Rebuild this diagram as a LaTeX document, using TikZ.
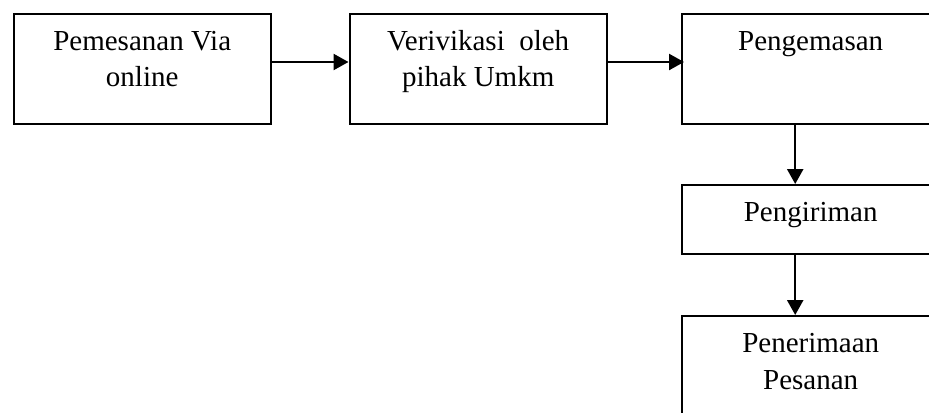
\documentclass[tikz,border=0pt]{standalone}
\usepackage{fontspec}
\setmainfont{Liberation Serif}
\usetikzlibrary{arrows.meta}

\tikzset{every picture/.style={line width=1pt}}
\tikzset{
  flowbox/.style={draw, rectangle, anchor=north west, inner sep=0pt, minimum width=128.5pt, minimum height=55pt},
  flowtext/.style={anchor=base, inner sep=0pt, align=center, font=\fontsize{14.5}{18.3}\selectfont},
  flowarrow/.style={-{Triangle[length=7.5pt,width=8pt]}}
}

\begin{document}
\begin{tikzpicture}[x=0.5pt,y=0.5pt,yscale=-1,xscale=1,line width=1.2pt]
		\useasboundingbox (0,0) rectangle (929,412);

		%Shape: Rectangle [order]
		\node [flowbox] (order) at (12.5,12.5) {};
		%Shape: Rectangle [verify]
		\node [flowbox] (verify) at (348.5,12.5) {};
		%Shape: Rectangle [pack]
		\node [flowbox] (pack) at (681,12.5) {};
		%Shape: Rectangle [ship]
		\node [flowbox, minimum height=34.35pt] (ship) at (681,184) {};
		%Shape: Rectangle [receive]
		\node [flowbox] (receive) at (681,315) {};

		% Text Node (base = last line)
		\node [flowtext] (orderText) at ([yshift=37.1pt]order.north) {Pemesanan Via\\online};
		% Text Node
		\node [flowtext] (verifyText) at ([yshift=37.1pt]verify.north) {Verivikasi\ \ oleh\\pihak Umkm};
		% Text Node
		\node [flowtext] (packText) at ([yshift=18.75pt]pack.north) {Pengemasan};
		% Text Node
		\node [flowtext] (shipText) at ([yshift=18.75pt]ship.north) {Pengiriman};
		% Text Node
		\node [flowtext] (receiveText) at ([yshift=37.1pt]receive.north) {Penerimaan\\Pesanan};

		%Straight Lines [arrows]
		\draw [flowarrow] ([yshift=-3.35pt]order.east) -- ([yshift=-3.35pt]verify.west);
		\draw [flowarrow] ([yshift=-3.35pt]verify.east) -- ([xshift=1.5pt,yshift=-3.35pt]pack.west);
		\draw [flowarrow] ([xshift=-7.75pt]pack.south) -- ([xshift=-7.75pt]ship.north);
		\draw [flowarrow] ([xshift=-7.75pt]ship.south) -- ([xshift=-7.75pt]receive.north);

\end{tikzpicture}
\end{document}
